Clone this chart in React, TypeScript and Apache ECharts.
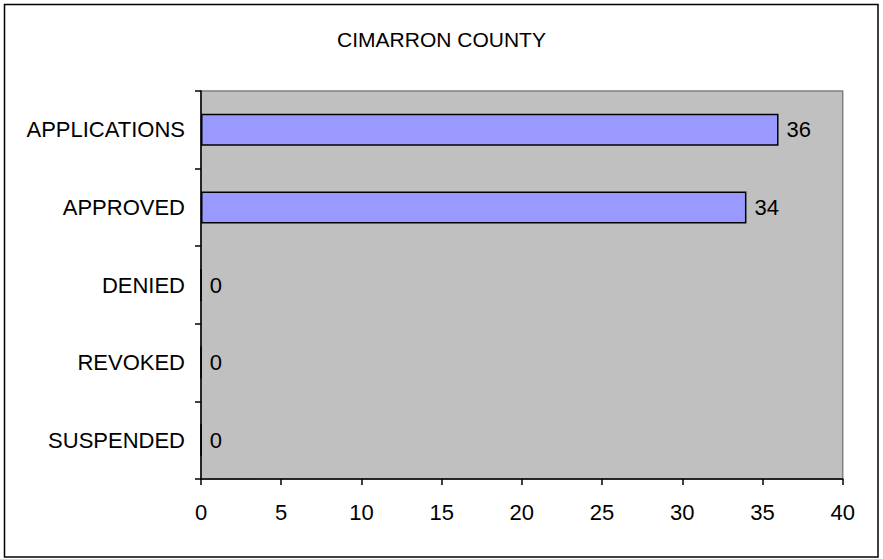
import React, { useEffect, useRef } from "react";
import * as echarts from "echarts";

const categories = ["APPLICATIONS", "APPROVED", "DENIED", "REVOKED", "SUSPENDED"];
const values = [36, 34, 0, 0, 0];
const titleText = "CIMARRON COUNTY";
const xMin = 0;
const xMax = 40;
const xStep = 5;

export default function App() {
  const ref = useRef<HTMLDivElement>(null);
  useEffect(() => {
    document.body.style.margin = "0";
    const chart = echarts.init(ref.current!, null, { renderer: "svg" });
    const font = "Arial, 'Liberation Sans', sans-serif";
    chart.setOption({
      animation: false,
      backgroundColor: "#ffffff",
      title: {
        text: titleText,
        left: "center",
        top: 24,
        textStyle: { fontFamily: font, fontSize: 21, fontWeight: "normal", color: "#000" },
      },
      graphic: [
        {
          type: "rect",
          shape: { x: 4.5, y: 4.5, width: 873.5, height: 552.5 },
          style: { fill: "none", stroke: "#000", lineWidth: 1.5 },
          silent: true,
        },
      ],
      grid: {
        left: 201,
        right: 40.3,
        top: 91,
        bottom: 80,
        show: true,
        backgroundColor: "#c0c0c0",
        borderColor: "#808080",
        borderWidth: 1.5,
      },
      xAxis: {
        type: "value",
        min: xMin,
        max: xMax,
        interval: xStep,
        splitLine: { show: false },
        axisLine: { show: true, lineStyle: { color: "#000", width: 1.5 } },
        axisTick: { show: true, length: 6, lineStyle: { color: "#000", width: 1.5 } },
        axisLabel: { margin: 22, fontFamily: font, fontSize: 22, color: "#000" },
      },
      yAxis: {
        type: "category",
        data: categories,
        inverse: true,
        axisLine: { show: true, lineStyle: { color: "#000", width: 1.5 } },
        axisTick: { show: true, length: 6, lineStyle: { color: "#000", width: 1.5 } },
        axisLabel: { margin: 16, fontFamily: font, fontSize: 22, color: "#000" },
        splitLine: { show: false },
      },
      series: [
        {
          type: "bar",
          data: values,
          barWidth: 32,
          itemStyle: { color: "#9999ff", borderColor: "#000", borderWidth: 1.5 },
          label: {
            show: true,
            position: "right",
            distance: 8,
            fontFamily: font,
            fontSize: 22,
            color: "#000",
          },
        },
      ],
    });
    return () => chart.dispose();
  }, []);
  return <div ref={ref} style={{ position: "fixed", left: 0, top: 0, width: 883, height: 559 }} />;
}
